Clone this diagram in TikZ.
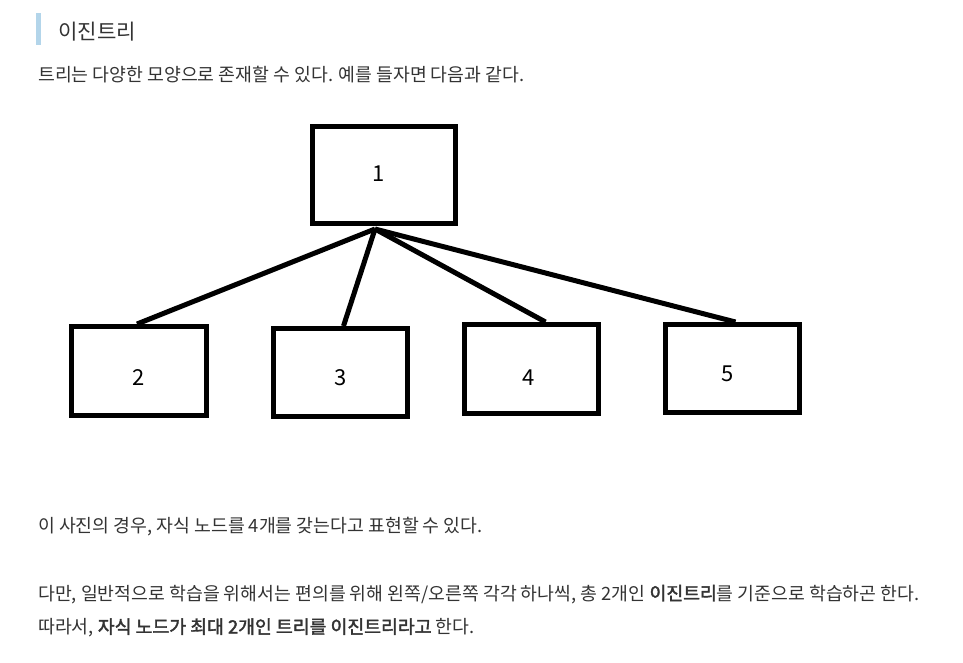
\documentclass[tikz,border=0pt]{standalone}
\usepackage{fontspec}
\setmainfont{Noto Sans CJK KR}
\newfontfamily\krbold[FakeBold=2]{Noto Sans CJK KR}
\usepackage{xcolor}
\usetikzlibrary{positioning,calc}
\definecolor{txtgray}{HTML}{333333}
\definecolor{barblue}{HTML}{B3D5EA}
\newcommand{\boxnum}[3]{\raisebox{#2}[0pt][0pt]{\makebox[0pt]{\kern#1\kern#1 #3}}}
\tikzset{
  treebox/.style={draw, line width=5pt, inner sep=0pt, font=\fontsize{22}{22}\selectfont},
  edge/.style={line width=5pt},
  para/.style={anchor=base west, inner sep=0pt, text=txtgray, font=\fontsize{18.3}{22}\selectfont}
}
\begin{document}
\begin{tikzpicture}[x=1pt,y=-1pt]
\useasboundingbox[fill=white] (0,0) rectangle (963,662);
\fill[barblue] (36,13) rectangle (41,45);
\node[para, font=\fontsize{21.1}{24}\selectfont] (title) at (58,39.5) {이진트리};
\node[para] (intro) at (38,81) {트리는 다양한 모양으로 존재할 수 있다. 예를 들자면 다음과 같다.};
\node[treebox, minimum width=143pt, minimum height=97pt] (n1) at (384,175) {\boxnum{-5pt}{-6pt}{1}};
\node[treebox, minimum width=135pt, minimum height=89pt] (n2) at (139,371) {\boxnum{0pt}{-14pt}{2}};
\node[treebox, minimum width=134pt, minimum height=88pt] (n3) at (340.5,372.5) {\boxnum{0pt}{-12.5pt}{3}};
\node[treebox, minimum width=134pt, minimum height=89pt] (n4) at (531.5,369) {\boxnum{-3pt}{-16pt}{4}};
\node[treebox, minimum width=134pt, minimum height=88pt] (n5) at (732.5,368.5) {\boxnum{-5pt}{-12.5pt}{5}};
\coordinate (hub) at ([xshift=-9pt,yshift=-3pt]n1.south);
\foreach \c/\dx in {n2/-2,n3/3,n4/14,n5/3} {
	\draw[edge] (hub) -- ([xshift=\dx]\c.north);
}
\node[para] (note) at (38,532) {이 사진의 경우, 자식 노드를 4개를 갖는다고 표현할 수 있다.};
\node[para] (usual) at (38,600) {다만, 일반적으로 학습을 위해서는 편의를 위해 왼쪽/오른쪽 각각 하나씩, 총 2개인 {\krbold 이진트리}를 기준으로 학습하곤 한다.};
\node[para] (sum) at (38,633.5) {따라서, {\krbold 자식 노드가 최대 2개인 트리를 이진트리라고} 한다.};
\end{tikzpicture}
\end{document}
